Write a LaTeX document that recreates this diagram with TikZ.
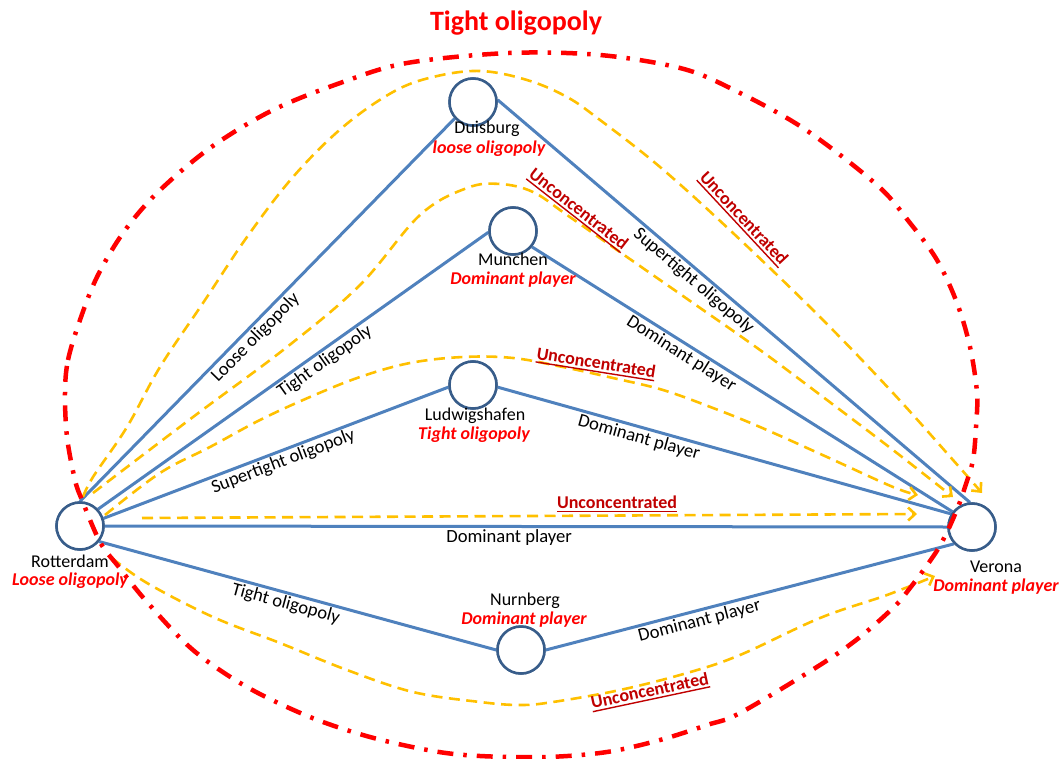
\documentclass[tikz,border=0pt]{standalone}
\usepackage{fontspec}
\setmainfont{Carlito}
\usetikzlibrary{arrows.meta}
\definecolor{blueline}{HTML}{4F81BD}
\definecolor{circblue}{HTML}{385D8A}
\definecolor{orangec}{HTML}{FFC000}
\definecolor{redc}{HTML}{FF0000}
\definecolor{uncred}{HTML}{C00000}
\newcommand{\myul}[1]{\setbox0\hbox{#1}\leavevmode\rlap{\rule[-3.5pt]{\wd0}{1.4pt}}\box0}
\begin{document}
\begin{tikzpicture}[x=1pt,y=-1pt,
  city/.style={circle, draw=circblue, line width=2.5pt, fill=white, minimum size=47pt, inner sep=0pt},
  bline/.style={draw=blueline, line width=3pt},
  edgelab/.style={font=\fontsize{18.6}{21}\selectfont, text=black, sloped, inner sep=1.5pt},
  namelab/.style={font=\fontsize{18}{21}\selectfont, anchor=base, inner sep=0pt},
  statlab/.style={font=\fontsize{18}{21}\selectfont\bfseries\itshape, text=redc, anchor=base, inner sep=0pt},
  unc/.style={font=\fontsize{18}{21}\selectfont\bfseries, text=uncred, inner sep=0pt},
  orangearrow/.style={draw=orangec, line width=2.6pt, dash pattern=on 11pt off 6.5pt, -{Straight Barb[length=7pt,width=13pt]}},
  redcurve/.style={draw=redc, line width=4.5pt, dash pattern=on 16pt off 10pt on 3.5pt off 10pt}
]
\useasboundingbox (0,0) rectangle (1064,759);

% title
\node[font=\fontsize{28}{32}\selectfont\bfseries, text=redc] (title) at (516,23) {Tight oligopoly};

% cities
\node[city] (rot) at (80,526) {};
\node[city] (dui) at (473,102) {};
\node[city] (mun) at (513,231) {};
\node[city] (lud) at (473,385) {};
\node[city] (nur) at (521,650) {};
\node[city] (ver) at (972,527) {};

% blue connections
\draw[bline] (rot.90) -- node[edgelab, below, pos=0.448] {Loose oligopoly} (dui.222);
\draw[bline] (rot.43) -- node[edgelab, below, pos=0.565] {Tight oligopoly} (mun.183);
\draw[bline] (rot.18) -- node[edgelab, below, pos=0.51] {Supertight oligopoly} (lud.185);
\draw[bline] (rot.0) -- node[edgelab, below, pos=0.48] {Dominant player} (ver.180);
\draw[bline] (rot.-39) -- node[edgelab, below, pos=0.477] {Tight oligopoly} (nur.180);
\draw[bline] (dui.5) -- node[edgelab, below, pos=0.43] {Supertight oligopoly} (ver.95);
\draw[bline] (mun.-40) -- node[edgelab, below, pos=0.369] {Dominant player} (ver.142);
\draw[bline] (lud.-5) -- node[edgelab, below, pos=0.318] {Dominant player} (ver.148);
\draw[bline] (nur.0) -- node[edgelab, below, pos=0.37] {Dominant player} (ver.223);

% redraw cities on top of lines
\node[city] at (rot) {};
\node[city] at (dui) {};
\node[city] at (mun) {};
\node[city] at (lud) {};
\node[city] at (nur) {};
\node[city] at (ver) {};

% city labels
\node[namelab] (rotname) at (70,567) {Rotterdam};
\node[statlab] (rotstat) at (70,585) {Loose oligopoly};
\node[namelab] (vername) at (996,572) {Verona};
\node[statlab] (verstat) at (996,591) {Dominant player};
\node[namelab] (duiname) at (487,134) {Duisburg};
\node[statlab] (duistat) at (489,154) {loose oligopoly};
\node[namelab] (munname) at (513,265) {Munchen};
\node[statlab] (munstat) at (513,284) {Dominant player};
\node[namelab] (ludname) at (475,420) {Ludwigshafen};
\node[statlab] (ludstat) at (474,439) {Tight oligopoly};
\node[namelab] (nurname) at (525,605) {Nurnberg};
\node[statlab] (nurstat) at (524,624) {Dominant player};

% orange dashed arrows
\coordinate (o1s) at (83,497);  \coordinate (o1e) at (982,493);
\coordinate (o2s) at (93,493);  \coordinate (o2e) at (953,497);
\coordinate (o3s) at (105,515); \coordinate (o3e) at (918,495);
\coordinate (o4s) at (142,518); \coordinate (o4e) at (917,514);
\coordinate (o5s) at (112,558); \coordinate (o5e) at (935,576);

\draw[orangearrow] plot[smooth, tension=0.6] coordinates {(o1s) (93,477) (127,427) (160,367) (203,303) (247,237) (293,177) (343,127) (393,92) (433,77) (480,71) (527,80) (567,97) (600,120) (660,167) (733,233) (820,317) (893,393) (953,460) (o1e)};
\draw[orangearrow] plot[smooth, tension=0.6] coordinates {(o2s) (193,417) (287,347) (360,285) (420,215) (467,188) (500,184) (533,192) (567,215) (627,257) (693,303) (760,350) (827,400) (893,450) (o2e)};
\draw[orangearrow] plot[smooth, tension=0.6] coordinates {(o3s) (160,473) (210,447) (260,420) (310,397) (360,377) (410,363) (463,357) (513,358) (563,367) (613,378) (663,390) (713,408) (760,427) (827,457) (893,487) (o3e)};
\draw[orangearrow] (o4s) -- (o4e);
\draw[orangearrow] plot[smooth, tension=0.6] coordinates {(o5s) (147,583) (213,617) (280,643) (347,670) (413,692) (480,702) (520,705) (553,702) (620,690) (687,673) (740,655) (820,618) (887,595) (o5e)};

% Unconcentrated labels
\node[unc, rotate=-47] (u1) at (743,219) {\myul{Unconcentrated}};
\node[unc, rotate=-38] (u2) at (578,210) {\myul{Unconcentrated}};
\node[unc, rotate=-9] (u3) at (596,364) {\myul{Unconcentrated}};
\node[unc] (u4) at (617,504) {\myul{Unconcentrated}};
\node[unc, rotate=12] (u5) at (650,692) {\myul{Unconcentrated}};

% red dash-dot boundary
\draw[redcurve] plot[smooth cycle, tension=0.55] coordinates {(65,393) (68,360) (80,320) (97,277) (123,233) (157,193) (210,148) (273,110) (343,82) (407,63) (509,53) (600,55) (680,68) (730,88) (803,128) (877,185) (910,223) (937,260) (957,303) (970,347) (977,393) (976,427) (973,460) (965,487) (958,507) (948,530) (938,549) (925,568) (910,588) (895,606) (860,637) (820,665) (740,713) (707,725) (660,740) (607,752) (547,757) (480,756) (433,751) (370,737) (310,717) (247,687) (193,650) (147,602) (118,566) (100,542) (82,500) (75,480) (67,437)};
\end{tikzpicture}
\end{document}
